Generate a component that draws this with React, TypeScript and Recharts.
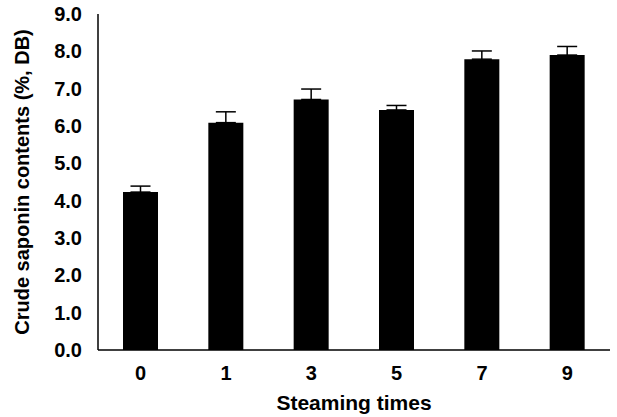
import { BarChart, Bar, XAxis, YAxis, ErrorBar } from "recharts"

const steamingTimes = ["0", "1", "3", "5", "7", "9"]
const saponin = [4.23, 6.09, 6.71, 6.43, 7.79, 7.9]
const sdUpper = [0.16, 0.29, 0.28, 0.12, 0.22, 0.23]
const yTicks = [0, 1, 2, 3, 4, 5, 6, 7, 8, 9]

const data = steamingTimes.map((t, i) => ({
  time: t,
  value: saponin[i],
  err: [0, sdUpper[i]],
}))

const font = "'Liberation Sans', Arial, sans-serif"
const tickStyle = { fontSize: 20, fontWeight: 700, fill: "#000", fontFamily: font }

export default function App() {
  return (
    <div style={{ position: "absolute", left: 0, top: 0, background: "#fff" }}>
      <BarChart
        width={617}
        height={417}
        data={data}
        margin={{ top: 14, right: 7, left: 0, bottom: 0 }}
        barCategoryGap={25}
      >
        <XAxis
          dataKey="time"
          tick={tickStyle}
          tickLine={false}
          axisLine={{ stroke: "#000", strokeWidth: 1.5 }}
          tickMargin={10}
          height={67}
          label={{
            value: "Steaming times",
            position: "insideBottom",
            offset: 7,
            style: { ...tickStyle, fontSize: 21 },
          }}
        />
        <XAxis xAxisId="top" orientation="top" dataKey="time" tick={false} tickLine={false} height={0} axisLine={{ stroke: "#555" }} />
        <YAxis
          domain={[0, 9]}
          ticks={yTicks}
          interval={0}
          tickFormatter={(v: number) => v.toFixed(1)}
          tick={tickStyle}
          tickLine={false}
          axisLine={{ stroke: "#000", strokeWidth: 1.5 }}
          tickMargin={10}
          width={98}
          label={{
            value: "Crude saponin contents (%, DB)",
            angle: -90,
            position: "insideLeft",
            offset: 22,
            style: { ...tickStyle, fontSize: 20, textAnchor: "middle" },
          }}
        />
        <YAxis yAxisId="right" orientation="right" domain={[0, 9]} tick={false} tickLine={false} width={0} axisLine={{ stroke: "#555" }} />
        <Bar dataKey="value" fill="#000" isAnimationActive={false}>
          <ErrorBar dataKey="err" width={10} stroke="#000" strokeWidth={1.5} direction="y" />
        </Bar>
      </BarChart>
    </div>
  )
}
